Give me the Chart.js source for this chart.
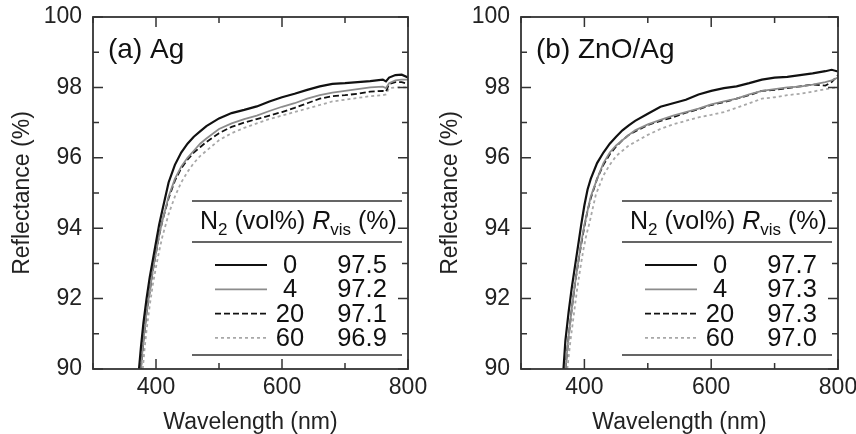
<!DOCTYPE html>
<html>
<head>
<meta charset="utf-8">
<script src="https://cdn.jsdelivr.net/npm/chart.js@4.4.0/dist/chart.umd.min.js"></script>
<style>
  body { margin: 0; background: #fff; }
  #wrap { width: 856px; height: 434px; display: flex; }
  .panel { width: 428px; height: 434px; }
</style>
</head>
<body>
<div id="wrap">
  <div class="panel"><canvas id="chartA" width="428" height="434"></canvas></div>
  <div class="panel"><canvas id="chartB" width="428" height="434"></canvas></div>
</div>
<script>
// N2 content of each curve and its visible reflectance
const n2Labels = ["0", "4", "20", "60"];
const rvisA = ["97.5", "97.2", "97.1", "96.9"];
const rvisB = ["97.7", "97.3", "97.3", "97.0"];

// (a) Ag
const wlA0 = [373,376,380,385,390,395,400,405,410,420,430,440,450,460,470,480,500,520,540,560,580,600,620,640,660,680,700,720,740,760,765,770,780,790,800];
const rA0  = [90,90.6,91.3,92.0,92.6,93.1,93.6,94.1,94.5,95.3,95.8,96.15,96.4,96.6,96.75,96.9,97.12,97.27,97.36,97.46,97.6,97.72,97.82,97.93,98.03,98.1,98.12,98.15,98.18,98.22,98.17,98.28,98.35,98.36,98.28];
const wlA4 = [376,380,385,390,395,400,405,410,420,430,440,450,460,470,480,500,520,540,560,580,600,620,640,660,680,700,720,740,760,765,770,780,790,800];
const rA4  = [90,90.8,91.6,92.2,92.8,93.3,93.8,94.2,94.9,95.4,95.75,96.0,96.2,96.4,96.55,96.82,96.98,97.1,97.2,97.33,97.45,97.55,97.68,97.78,97.85,97.9,97.95,98.0,98.02,97.98,98.12,98.2,98.22,98.22];
const wlA20 = wlA4;
const rA20 = [90,90.8,91.6,92.2,92.8,93.3,93.8,94.2,94.85,95.35,95.7,95.95,96.15,96.3,96.45,96.7,96.88,97.0,97.1,97.2,97.3,97.42,97.55,97.68,97.75,97.78,97.82,97.88,97.9,97.88,98.1,98.15,98.15,98.1];
const wlA60 = [379,382,385,390,395,400,405,410,420,430,440,450,460,470,480,500,520,540,560,580,600,620,640,660,680,700,720,740,760,765,770,780,790,800];
const rA60 = [90,90.6,91.1,91.8,92.4,92.9,93.35,93.75,94.4,94.9,95.3,95.6,95.85,96.05,96.2,96.5,96.7,96.85,96.98,97.1,97.2,97.3,97.4,97.5,97.6,97.65,97.7,97.75,97.78,97.8,97.98,98.0,98.0,98.0];

// (b) ZnO/Ag
const wlB0 = [367,370,375,380,385,390,395,400,405,410,420,430,440,450,460,470,480,500,520,540,560,580,600,620,640,660,680,700,720,740,760,780,790,800];
const rB0  = [90,90.8,91.6,92.3,92.9,93.5,94.1,94.65,95.1,95.4,95.85,96.15,96.4,96.6,96.78,96.92,97.05,97.25,97.45,97.55,97.65,97.8,97.9,97.98,98.03,98.12,98.22,98.28,98.3,98.35,98.4,98.46,98.5,98.45];
const wlB4 = [370,375,380,385,390,395,400,405,410,420,430,440,450,460,470,480,500,520,540,560,580,600,620,640,660,680,700,720,740,760,780,790,800];
const rB4  = [90,90.9,91.7,92.4,93.0,93.6,94.1,94.5,94.9,95.4,95.85,96.15,96.35,96.5,96.65,96.78,96.95,97.08,97.2,97.3,97.4,97.52,97.6,97.68,97.8,97.9,97.95,98.0,98.02,98.08,98.15,98.2,98.28];
const wlB20 = wlB4;
const rB20 = [90,90.9,91.7,92.4,93.0,93.55,94.05,94.5,94.85,95.4,95.8,96.1,96.32,96.5,96.65,96.75,96.93,97.05,97.15,97.28,97.38,97.5,97.58,97.68,97.78,97.9,97.93,97.98,98.03,98.08,98.05,98.15,98.35];
const wlB60 = [373,378,383,388,393,398,403,408,418,430,440,450,460,470,480,500,520,540,560,580,600,620,640,660,680,700,720,740,760,780,790,800];
const rB60 = [90,90.8,91.5,92.2,92.8,93.35,93.8,94.15,94.95,95.5,95.8,96.05,96.2,96.35,96.45,96.65,96.82,96.95,97.05,97.15,97.22,97.3,97.42,97.55,97.68,97.72,97.78,97.82,97.88,97.95,97.98,98.0];

const FONT = '"Liberation Sans", Arial, sans-serif';
Chart.defaults.font.family = FONT;
Chart.defaults.color = "#222";

const styles = [
  { borderColor: "#111", borderWidth: 2.2, borderDash: [] },
  { borderColor: "#8c8c8c", borderWidth: 1.8, borderDash: [] },
  { borderColor: "#111", borderWidth: 1.8, borderDash: [6, 3] },
  { borderColor: "#a8a8a8", borderWidth: 1.8, borderDash: [3, 3] }
];

function pts(wl, r) {
  return wl.map((x, i) => ({ x: x, y: r[i] }));
}

// frame with inward ticks (long on labelled values), panel title and legend table
const decor = {
  id: "decor",
  afterDraw(chart, args, opts) {
    const ctx = chart.ctx;
    const ca = chart.chartArea;
    const xs = chart.scales.x, ys = chart.scales.y;
    ctx.save();
    ctx.strokeStyle = "#333";
    ctx.lineWidth = 1.8;
    ctx.strokeRect(ca.left, ca.top, ca.right - ca.left, ca.bottom - ca.top);
    ctx.lineWidth = 1.5;
    ctx.beginPath();
    xs.ticks.forEach(t => {
      const px = xs.getPixelForValue(t.value);
      const tl = (t.value % 200 === 0) ? 10 : 6;
      ctx.moveTo(px, ca.bottom); ctx.lineTo(px, ca.bottom - tl);
      ctx.moveTo(px, ca.top); ctx.lineTo(px, ca.top + tl);
    });
    ys.ticks.forEach(t => {
      const py = ys.getPixelForValue(t.value);
      const tl = (t.value % 2 === 0) ? 10 : 6;
      ctx.moveTo(ca.left, py); ctx.lineTo(ca.left + tl, py);
      ctx.moveTo(ca.right, py); ctx.lineTo(ca.right - tl, py);
    });
    ctx.stroke();

    // panel title
    ctx.fillStyle = "#111";
    ctx.font = "28px " + FONT;
    ctx.textBaseline = "middle";
    ctx.textAlign = "left";
    ctx.fillText(opts.title, ca.left + 15, ca.top + 33);

    // legend table
    const L = ca.right - 216, R = ca.right - 6;
    const yTop = ca.bottom - 168, yMid = ca.bottom - 127, yBot = ca.bottom - 14;
    ctx.strokeStyle = "#333";
    ctx.lineWidth = 1.6;
    ctx.beginPath();
    [yTop, yMid, yBot].forEach(y => { ctx.moveTo(L, y); ctx.lineTo(R, y); });
    ctx.stroke();

    // header: N2 (vol%) Rvis (%)
    let x = L + 8;
    const base = yTop + 28;
    ctx.textBaseline = "alphabetic";
    const parts = [
      ["N", "25px", 0, ""], ["2", "17px", 6, ""], [" (vol%) ", "25px", 0, ""],
      ["R", "25px", 0, "italic "], ["vis", "17px", 6, ""], [" (%)", "25px", 0, ""]
    ];
    parts.forEach(p => {
      ctx.font = p[3] + p[1] + " " + FONT;
      ctx.fillText(p[0], x, base + p[2]);
      x += ctx.measureText(p[0]).width;
    });

    // rows
    ctx.font = "25.5px " + FONT;
    ctx.textBaseline = "middle";
    ctx.textAlign = "center";
    chart.data.datasets.forEach((ds, i) => {
      const y = yTop + 64 + i * 24.3;
      ctx.save();
      ctx.strokeStyle = ds.borderColor;
      ctx.lineWidth = ds.borderWidth;
      ctx.setLineDash(ds.borderDash);
      ctx.beginPath();
      ctx.moveTo(L + 23, y); ctx.lineTo(L + 75, y);
      ctx.stroke();
      ctx.restore();
      ctx.fillText(n2Labels[i], L + 98, y + 1);
      ctx.fillText(opts.rvis[i], L + 170, y + 1);
    });
    ctx.restore();
  }
};

function makePanel(id, series, title, rvis, padRight) {
  const datasets = series.map((s, i) => Object.assign({
    label: n2Labels[i],
    data: pts(s[0], s[1]),
    pointRadius: 0,
    fill: false,
    tension: 0
  }, styles[i]));
  return new Chart(document.getElementById(id), {
    type: "line",
    data: { datasets },
    plugins: [decor],
    options: {
      responsive: false,
      animation: false,
      layout: { padding: { top: 17, right: padRight, left: 0, bottom: 0 } },
      plugins: {
        legend: { display: false },
        tooltip: { enabled: false },
        decor: { title: title, rvis: rvis }
      },
      scales: {
        x: {
          type: "linear",
          min: 300, max: 800,
          grid: { display: false, drawTicks: false },
          border: { display: false },
          ticks: {
            stepSize: 100, autoSkip: false, maxRotation: 0, padding: 5,
            font: { size: 23 }, color: "#222",
            callback: v => (v >= 400 && v % 200 === 0) ? v : ""
          },
          title: { display: true, text: "Wavelength (nm)", font: { size: 23, lineHeight: 1.0 }, color: "#222", padding: { top: 0, bottom: 0 } },
          afterFit: s => { s.height = 65; s.paddingLeft = 0; s.paddingRight = 0; }
        },
        y: {
          min: 90, max: 100,
          grid: { display: false, drawTicks: false },
          border: { display: false },
          ticks: {
            stepSize: 1, autoSkip: false, padding: 11,
            font: { size: 23 }, color: "#222",
            callback: v => (v % 2 === 0) ? v : ""
          },
          title: { display: true, text: "Reflectance (%)", font: { size: 23 }, color: "#222", padding: { top: 9, bottom: 0 } },
          afterFit: s => { s.width = 93; s.paddingTop = 0; s.paddingBottom = 0; }
        }
      }
    }
  });
}

makePanel("chartA", [[wlA0, rA0], [wlA4, rA4], [wlA20, rA20], [wlA60, rA60]], "(a) Ag", rvisA, 20);
makePanel("chartB", [[wlB0, rB0], [wlB4, rB4], [wlB20, rB20], [wlB60, rB60]], "(b) ZnO/Ag", rvisB, 18);
</script>
</body>
</html>
